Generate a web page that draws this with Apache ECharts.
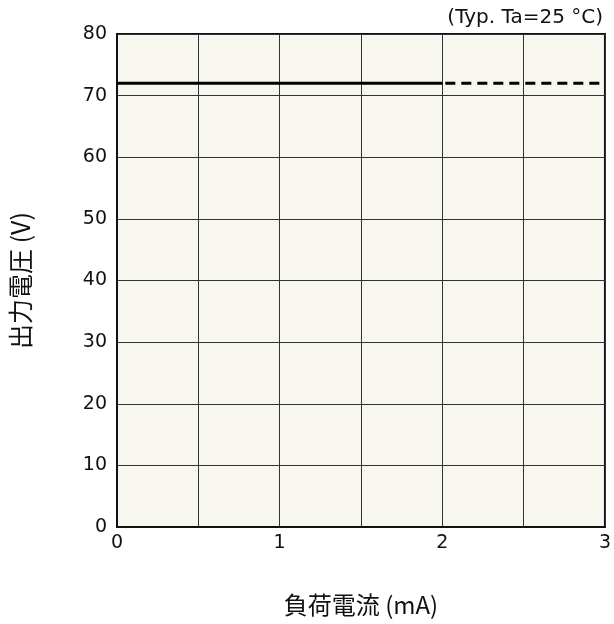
<!DOCTYPE html>
<html><head><meta charset="utf-8">
<script src="https://cdn.jsdelivr.net/npm/echarts@6/dist/echarts.min.js"></script>
<style>html,body{margin:0;padding:0;background:#fff}#c{width:614px;height:624px}</style>
</head><body><div id="c"></div>
<script>
const xTicks = [0, 1, 2, 3];
const yTicks = [0, 10, 20, 30, 40, 50, 60, 70, 80];
const solidSeries = [[0, 72], [2, 72]];
const dashedSeries = [[2, 72], [3, 72]];
const xName = '負荷電流 (mA)';
const yName = '出力電圧 (V)';
const note = '(Typ. Ta=25 °C)';

const font = '"DejaVu Sans", "Noto Sans CJK JP", sans-serif';
const cjkFont = '"Noto Sans CJK JP", "DejaVu Sans", sans-serif';
const chart = echarts.init(document.getElementById('c'));
chart.setOption({
  backgroundColor: '#ffffff',
  animation: false,
  title: {
    text: note, right: 6, top: 3,
    textStyle: { fontFamily: font, fontSize: 20, fontWeight: 'normal', color: '#111' }
  },
  grid: { left: 117, top: 34, right: 6, bottom: 97, show: true, backgroundColor: '#f7f6ef', borderColor: '#111', borderWidth: 2 },
  xAxis: {
    type: 'value', min: 0, max: 3, interval: 0.5,
    name: xName, nameLocation: 'middle', nameGap: 66,
    nameTextStyle: { fontFamily: cjkFont, fontSize: 24, color: '#111' },
    axisLine: { show: true, lineStyle: { color: '#111', width: 2 } },
    axisTick: { show: false },
    axisLabel: {
      fontFamily: font, fontSize: 19, color: '#111', margin: 7,
      formatter: v => xTicks.includes(v) ? String(v) : ''
    },
    splitLine: { show: true, lineStyle: { color: '#333', width: 1 } }
  },
  yAxis: {
    type: 'value', min: 0, max: 80, interval: 10,
    name: yName, nameLocation: 'middle', nameGap: 84,
    nameTextStyle: { fontFamily: cjkFont, fontSize: 25, color: '#111' },
    axisLine: { show: true, lineStyle: { color: '#111', width: 2 } },
    axisTick: { show: false },
    axisLabel: {
      fontFamily: font, fontSize: 19, color: '#111', margin: 10,
      formatter: v => yTicks.includes(v) ? String(v) : ''
    },
    splitLine: { show: true, lineStyle: { color: '#333', width: 1 } }
  },
  series: [
    { type: 'line', data: solidSeries, symbol: 'none', lineStyle: { color: '#000', width: 3, type: 'solid' } },
    { type: 'line', data: dashedSeries, symbol: 'none', lineStyle: { color: '#000', width: 3, type: [10, 6], dashOffset: 13 } }
  ]
});
</script></body></html>
